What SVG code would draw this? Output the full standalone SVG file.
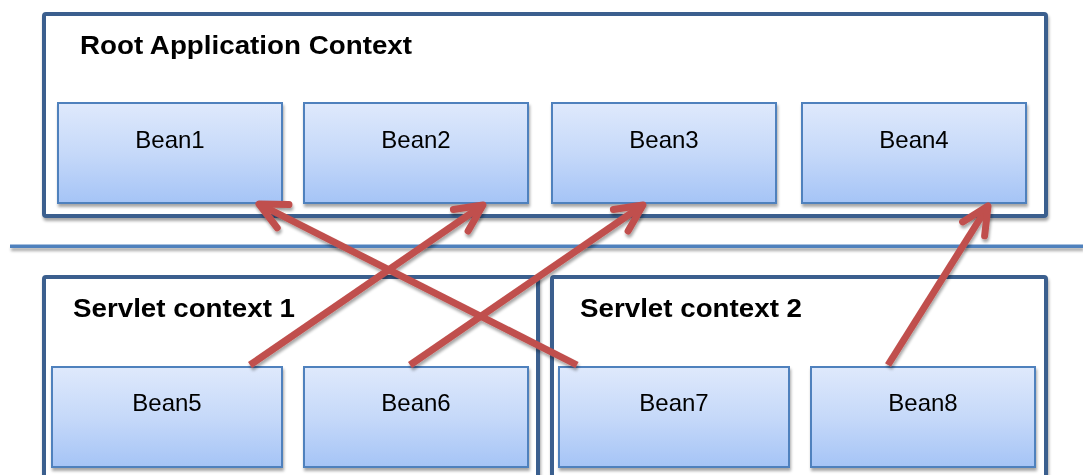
<svg xmlns="http://www.w3.org/2000/svg" width="1083" height="475" viewBox="0 0 1083 475">
<defs>
<linearGradient id="beanGrad" x1="0" y1="0" x2="0" y2="1">
<stop offset="0" stop-color="#dfe9fc"/>
<stop offset="0.5" stop-color="#c6d9f9"/>
<stop offset="1" stop-color="#a5c4f6"/>
</linearGradient>
<filter id="shadow" x="-10%" y="-10%" width="120%" height="130%">
<feGaussianBlur in="SourceAlpha" stdDeviation="1.5"/>
<feOffset dx="1" dy="2.5" result="b"/>
<feComponentTransfer><feFuncA type="linear" slope="0.35"/></feComponentTransfer>
<feMerge><feMergeNode/><feMergeNode in="SourceGraphic"/></feMerge>
</filter>
<filter id="lineShadow" filterUnits="userSpaceOnUse" x="0" y="230" width="1083" height="30">
<feGaussianBlur in="SourceAlpha" stdDeviation="1.5"/>
<feOffset dx="1" dy="2.5" result="b"/>
<feComponentTransfer><feFuncA type="linear" slope="0.35"/></feComponentTransfer>
<feMerge><feMergeNode/><feMergeNode in="SourceGraphic"/></feMerge>
</filter>
<marker id="arrow" markerUnits="userSpaceOnUse" markerWidth="60" markerHeight="60" refX="0" refY="0" viewBox="-40 -30 50 60" orient="auto" overflow="visible">
<path d="M -27 -13 L 0 0 L -27 13" fill="none" stroke="#c0504d" stroke-width="7" stroke-linecap="round" stroke-linejoin="round"/>
</marker>
</defs>
<style>
.ctx { fill: #ffffff; stroke: #3b5f8e; stroke-width: 4; }
.bean { fill: url(#beanGrad); stroke: #4f81bd; stroke-width: 2; }
.title { font-family: "Liberation Sans", Arial, sans-serif; font-weight: bold; font-size: 26px; fill: #000; }
.lbl { font-family: "Liberation Sans", Arial, sans-serif; font-size: 24px; fill: #000; text-anchor: middle; }
.conn { stroke: #c0504d; stroke-width: 7; fill: none; marker-end: url(#arrow); }
</style>
<rect width="1083" height="475" fill="#ffffff"/>

<g id="root-context" filter="url(#shadow)">
<rect class="ctx" x="44" y="14" width="1002" height="202" rx="2"/>
<text class="title" x="80" y="54" textLength="332" lengthAdjust="spacingAndGlyphs">Root Application Context</text>
</g>

<g id="separator" filter="url(#lineShadow)">
<rect x="10" y="244.5" width="1073" height="3.5" fill="#4f81bd"/>
</g>

<g id="servlet-context-1" filter="url(#shadow)">
<rect class="ctx" x="44" y="277" width="494" height="210" rx="2"/>
<text class="title" x="73" y="317" textLength="222" lengthAdjust="spacingAndGlyphs">Servlet context 1</text>
</g>

<g id="servlet-context-2" filter="url(#shadow)">
<rect class="ctx" x="552" y="277" width="494" height="210" rx="2"/>
<text class="title" x="580" y="317" textLength="222" lengthAdjust="spacingAndGlyphs">Servlet context 2</text>
</g>

<g id="bean1" filter="url(#shadow)">
<rect class="bean" x="58" y="103" width="224" height="100"/>
<text class="lbl" x="170" y="148">Bean1</text>
</g>
<g id="bean2" filter="url(#shadow)">
<rect class="bean" x="304" y="103" width="224" height="100"/>
<text class="lbl" x="416" y="148">Bean2</text>
</g>
<g id="bean3" filter="url(#shadow)">
<rect class="bean" x="552" y="103" width="224" height="100"/>
<text class="lbl" x="664" y="148">Bean3</text>
</g>
<g id="bean4" filter="url(#shadow)">
<rect class="bean" x="802" y="103" width="224" height="100"/>
<text class="lbl" x="914" y="148">Bean4</text>
</g>

<g id="bean5" filter="url(#shadow)">
<rect class="bean" x="52" y="367" width="230" height="100"/>
<text class="lbl" x="167" y="411">Bean5</text>
</g>
<g id="bean6" filter="url(#shadow)">
<rect class="bean" x="304" y="367" width="224" height="100"/>
<text class="lbl" x="416" y="411">Bean6</text>
</g>
<g id="bean7" filter="url(#shadow)">
<rect class="bean" x="559" y="367" width="230" height="100"/>
<text class="lbl" x="674" y="411">Bean7</text>
</g>
<g id="bean8" filter="url(#shadow)">
<rect class="bean" x="811" y="367" width="224" height="100"/>
<text class="lbl" x="923" y="411">Bean8</text>
</g>

<g id="connectors" filter="url(#shadow)">
<line class="conn" x1="577" y1="365" x2="259" y2="204"/>
<line class="conn" x1="250" y1="365" x2="483" y2="205"/>
<line class="conn" x1="410" y1="365" x2="643" y2="205"/>
<line class="conn" x1="888" y1="365" x2="988" y2="206"/>
</g>
</svg>
